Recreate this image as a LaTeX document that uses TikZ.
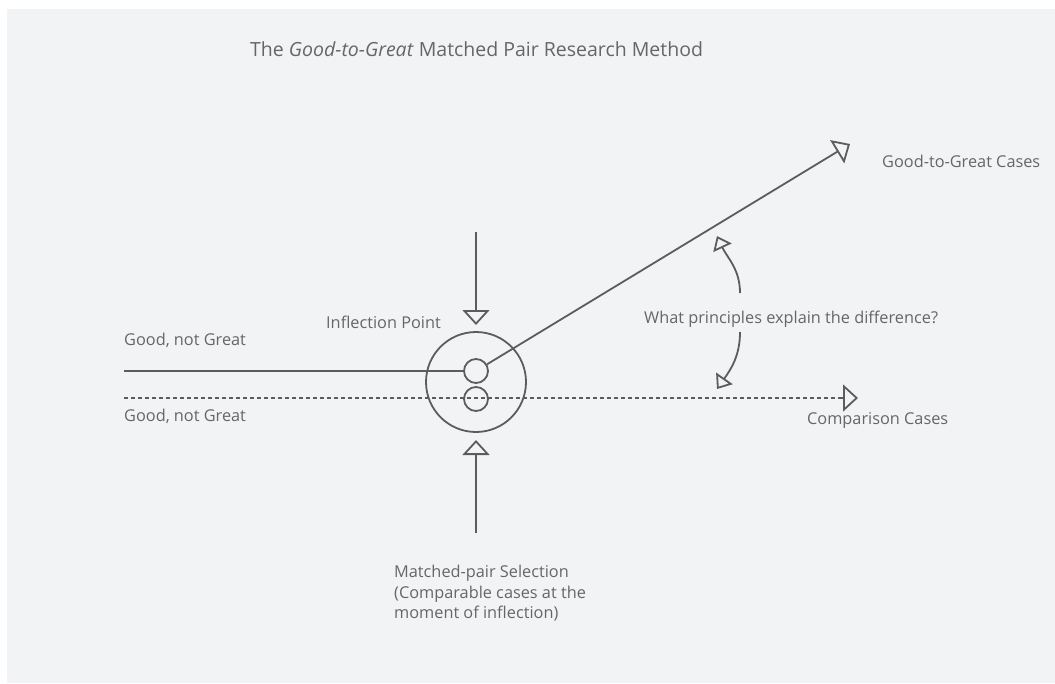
\documentclass[tikz,border=0pt]{standalone}
\usepackage{fontspec}
\setmainfont{Open Sans}
\usetikzlibrary{arrows.meta}
\definecolor{bgpanel}{HTML}{F2F3F5}
\definecolor{linecol}{HTML}{5C5C5C}
\definecolor{textcol}{HTML}{666666}
\begin{document}
\begin{tikzpicture}[x=1pt,y=-1pt,
  lbl/.style={font=\fontsize{16.3}{20.5}\selectfont, text=textcol, inner sep=0pt},
  conn/.style={draw=linecol, line width=1.8pt},
  bigtip/.style={-{Triangle[open, length=15pt, width=27pt, line width=1.8pt]}},
  smalltip/.style={-{Triangle[open, length=13pt, width=20pt, line width=1.8pt]}},
  ring/.style={circle, draw=linecol, line width=1.8pt, inner sep=0pt}]
\useasboundingbox (0,0) rectangle (1055,683);
\fill[white] (0,0) rectangle (1055,683);
\fill[bgpanel] (7,9) rectangle (1055,683);

% title
\node[lbl, font=\fontsize{19.5}{23}\selectfont, anchor=base west] (title) at (250,56) {The \textit{Good-to-Great} Matched Pair Research Method};

% circles
\node[ring, minimum size=100pt] (big) at (476,382) {};
\node[ring, minimum size=24pt] (c1) at (476,371) {};
\node[ring, minimum size=24pt] (c2) at (476,399) {};

% coordinates
\coordinate (gl) at (124,371);
\coordinate (dl) at (124,398);
\coordinate (dtip) at (858,398);
\coordinate (gtip) at (850,144);
\coordinate (ttop) at (476,232);
\coordinate (ttip) at (476,325);
\coordinate (bbot) at (476,533);
\coordinate (btip) at (476,440);
\coordinate (u0) at (740,293);
\coordinate (utip) at (717,236);
\coordinate (l0) at (740,332);
\coordinate (ltip) at (717,389);

% connectors
\draw[conn] (gl) -- (c1);
\draw[conn, bigtip] (c1) -- (gtip);
\draw[draw=linecol, line width=1.3pt, dash pattern=on 4pt off 3pt] (dl) -- ([xshift=-15pt]dtip);
\draw[conn, bigtip, solid] ([xshift=-16pt]dtip) -- (dtip);
\draw[conn, bigtip] (ttop) -- (ttip);
\draw[conn, bigtip] (bbot) -- (btip);
\draw[conn, smalltip] (u0) to[out=90, in=-65] (utip);
\draw[conn, smalltip] (l0) to[out=-90, in=55] (ltip);

% labels
\node[lbl, anchor=base west] (gtg) at (882,167) {Good-to-Great Cases};
\node[lbl, anchor=base west] (what) at (644,323) {What principles explain the difference?};
\node[lbl, anchor=base east] (infl) at (441,328) {Inflection Point};
\node[lbl, anchor=base west] (good1) at (124,345) {Good, not Great};
\node[lbl, anchor=base west] (good2) at (124,421) {Good, not Great};
\node[lbl, anchor=base west] (comp) at (807,424) {Comparison Cases};
\node[lbl, anchor=north west, align=left] (match) at (394,565) {Matched-pair Selection\\(Comparable cases at the\\moment of inflection)};
\end{tikzpicture}
\end{document}
